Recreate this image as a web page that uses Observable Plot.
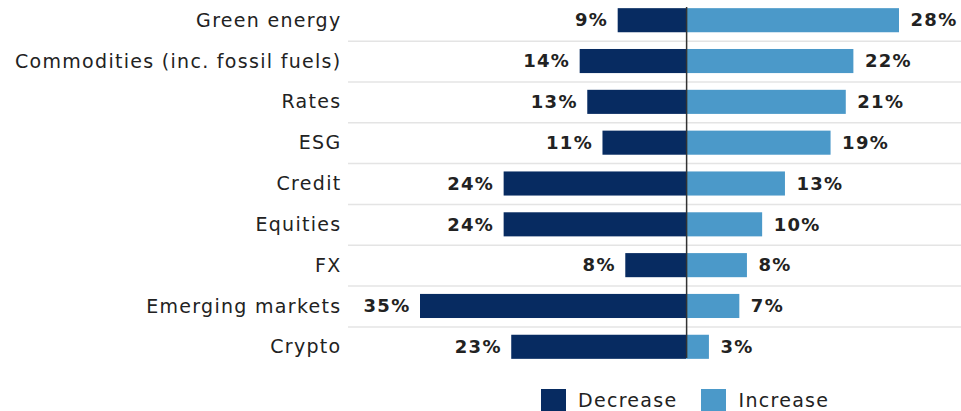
<!DOCTYPE html>
<html>
<head>
<meta charset="utf-8">
<script src="https://cdn.jsdelivr.net/npm/d3@7"></script>
<script src="https://cdn.jsdelivr.net/npm/@observablehq/plot@0.6"></script>
<style>
  html, body { margin: 0; padding: 0; background: #fff; }
  body { width: 961px; height: 411px; overflow: hidden; font-family: "DejaVu Sans", sans-serif; }
  #legend { display: flex; align-items: center; margin-top: 22px; padding-left: 541px; font-size: 19px; letter-spacing: 1.3px; line-height: 20px; height: 22px; color: #222; }
  .item { display: flex; align-items: center; margin-right: 24px; }
  .sw { width: 25px; height: 22px; margin-right: 12px; }
</style>
</head>
<body>
<div id="chart"></div>
<div id="legend"></div>
<script>
const categories = ["Green energy", "Commodities (inc. fossil fuels)", "Rates", "ESG", "Credit", "Equities", "FX", "Emerging markets", "Crypto"];
const decrease = [9, 14, 13, 11, 24, 24, 8, 35, 23];
const increase = [28, 22, 21, 19, 13, 10, 8, 7, 3];
const seriesNames = ["Decrease", "Increase"];
const colors = ["#072b61", "#4b99c9"];

const rows = [];
categories.forEach((c, i) => {
  rows.push({category: c, series: "Decrease", value: -decrease[i], label: decrease[i] + "%"});
  rows.push({category: c, series: "Increase", value: increase[i], label: increase[i] + "%"});
});
const dec = rows.filter(d => d.series === "Decrease");
const inc = rows.filter(d => d.series === "Increase");

const chart = Plot.plot({
  width: 961,
  height: 367,
  marginLeft: 420,
  marginRight: 62,
  marginTop: 0,
  marginBottom: 0,
  style: {fontFamily: "'DejaVu Sans', sans-serif", fontSize: "19px", letterSpacing: "1.3px", color: "#222"},
  x: {domain: [-35, 28], axis: null},
  y: {domain: categories, paddingInner: 0.41, paddingOuter: 0.2, round: false, label: null},
  color: {domain: seriesNames, range: colors},
  marks: [
    Plot.ruleY(categories.slice(1), {y: d => d, dy: -20.4, stroke: "#e4e4e4", strokeWidth: 1.5, insetLeft: -72, insetRight: -62}),
    Plot.barX(rows, {x: "value", y: "category", fill: "series"}),
    Plot.ruleX([0], {stroke: "#333", strokeWidth: 1.5, insetTop: 7, insetBottom: 9}),
    Plot.text(dec, {x: "value", y: "category", text: "label", textAnchor: "end", dx: -10, fontWeight: "bold", fontSize: 18, fill: "#222"}),
    Plot.text(inc, {x: "value", y: "category", text: "label", textAnchor: "start", dx: 11, fontWeight: "bold", fontSize: 18, fill: "#222"}),
    Plot.axisY({tickSize: 0, tickPadding: 79, fontSize: 19, fill: "#222", label: null})
  ]
});
document.getElementById("chart").appendChild(chart);

const legend = document.getElementById("legend");
seriesNames.forEach((s, i) => {
  const item = document.createElement("div");
  item.className = "item";
  const sw = document.createElement("div");
  sw.className = "sw";
  sw.style.background = colors[i];
  const t = document.createElement("span");
  t.textContent = s;
  item.appendChild(sw);
  item.appendChild(t);
  legend.appendChild(item);
});
</script>
</body>
</html>
